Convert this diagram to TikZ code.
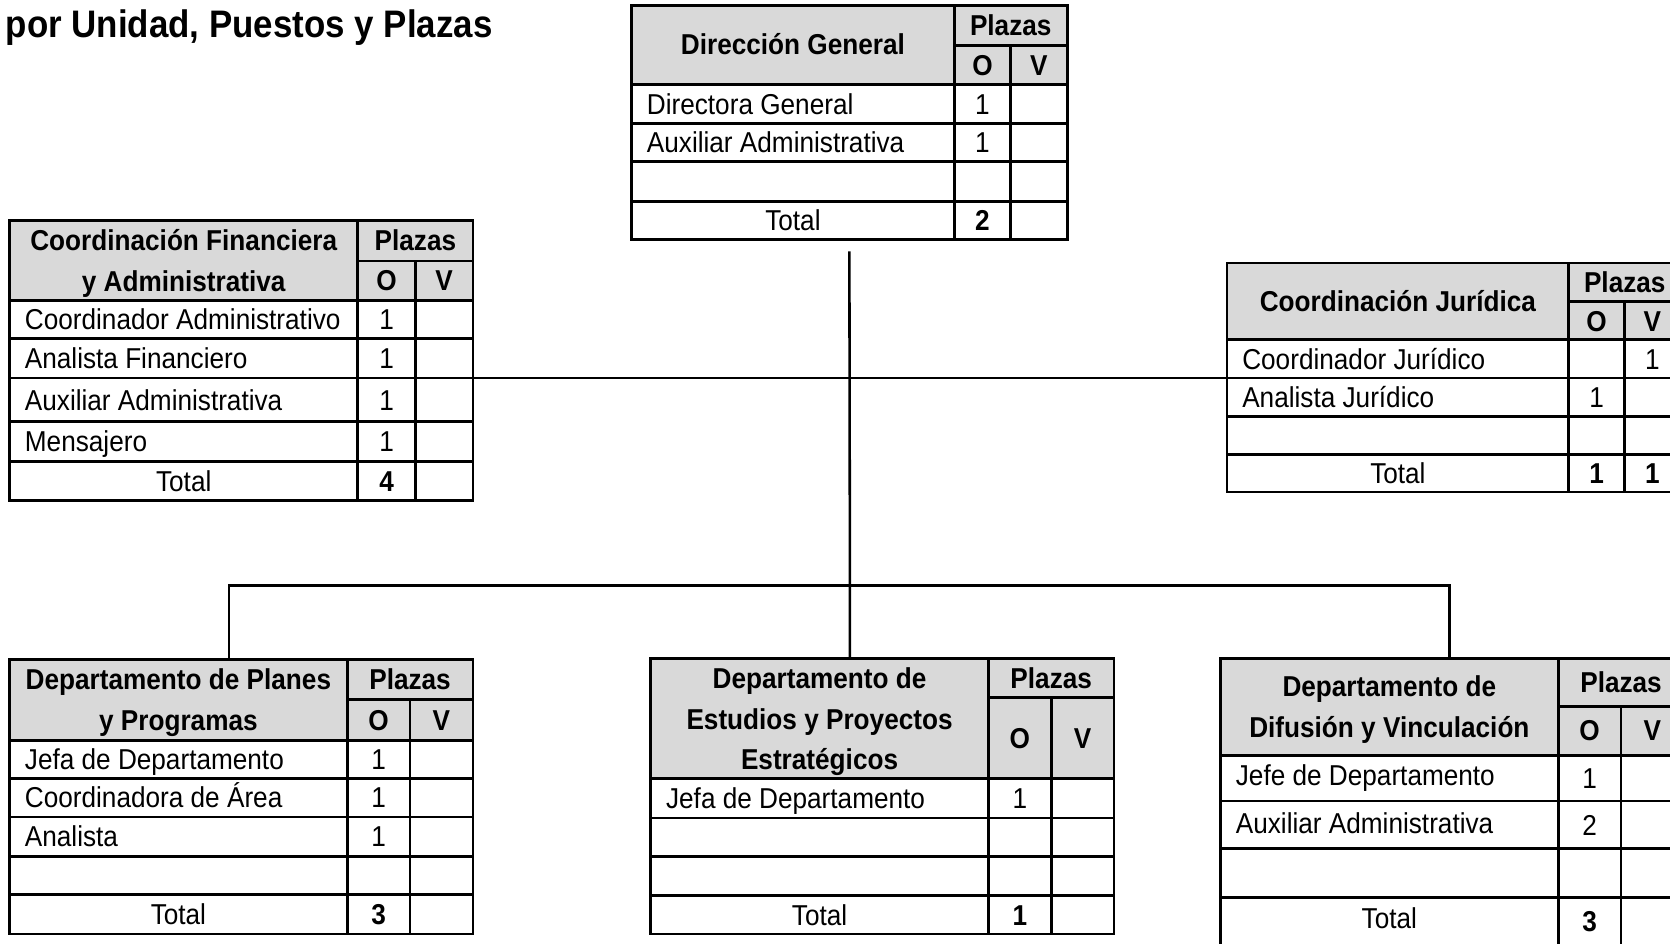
\documentclass[tikz,border=0pt]{standalone}
\usepackage{fontspec}
\setmainfont{Liberation Sans}[FakeStretch=0.91]
\usetikzlibrary{fit}
\definecolor{hdrgray}{HTML}{D9D9D9}
\tikzset{
  grid/.style={line width=1.3pt, black},
  conn/.style={line width=1.2pt, black},
  hdr/.style={fill=hdrgray},
  box/.style={inner sep=0pt, outer sep=0pt, draw=none},
  cell/.style={font=\fontsize{13.5}{16}\selectfont, inner sep=0pt, anchor=base west, yshift=-4.8pt},
  cellc/.style={cell, anchor=base},
  bcell/.style={font=\fontsize{13.5}{16}\selectfont\bfseries, inner sep=0pt, anchor=base, yshift=-4.8pt},
  titletext/.style={font=\fontsize{18}{22}\selectfont\bfseries, inner sep=0pt, anchor=base west},
}
\begin{document}
\begin{tikzpicture}[x=0.5pt, y=-0.5pt]
\useasboundingbox (0,0) rectangle (1568,886);
\clip (0,0) rectangle (1568,886);

\node[titletext] (title) at (5,35) {por Unidad, Puestos y Plazas};

% ---------- Direccion General ----------
\node[box, fit={(593,5)(1002,225)}] (dg) {};
\fill[hdr] (593,5) rectangle (1002,79);
\draw[grid] (593,5) rectangle (1002,225);
\draw[grid] (896,5) -- (896,225) (949,43) -- (949,225) (896,43) -- (1002,43);
\draw[grid] (593,79) -- (1002,79) (593,116) -- (1002,116) (593,152) -- (1002,152) (593,189) -- (1002,189);
\node[bcell] (dg-h) at (744.5,42) {Dirección General};
\node[bcell] (dg-p) at (949,24) {Plazas};
\node[bcell] (dg-o) at (922.5,61) {O};
\node[bcell] (dg-v) at (975.5,61) {V};
\node[cell] (dg-r1) at (607,97.5) {Directora General};
\node[cellc] (dg-r1o) at (922.5,97.5) {1};
\node[cell] (dg-r2) at (607,134) {Auxiliar Administrativa};
\node[cellc] (dg-r2o) at (922.5,134) {1};
\node[cellc] (dg-t) at (744.5,207) {Total};
\node[bcell] (dg-to) at (922.5,207) {2};

% ---------- Coordinacion Financiera ----------
\node[box, fit={(9,207)(444,470)}] (cf) {};
\fill[hdr] (9,207) rectangle (444,282);
\draw[grid] (9,207) rectangle (444,470);
\draw[grid] (336,207) -- (336,470) (390,245) -- (390,470) (336,245) -- (444,245);
\draw[grid] (9,282) -- (444,282) (9,318) -- (444,318) (9,355) -- (444,355) (9,396) -- (444,396) (9,433) -- (444,433);
\node[bcell] (cf-h1) at (172.5,226) {Coordinación Financiera};
\node[bcell] (cf-h2) at (172.5,264) {y Administrativa};
\node[bcell] (cf-p) at (390,226) {Plazas};
\node[bcell] (cf-o) at (363,263.5) {O};
\node[bcell] (cf-v) at (417,263.5) {V};
\node[cell] (cf-r1) at (23,300) {Coordinador Administrativo};
\node[cellc] (cf-r1o) at (363,300) {1};
\node[cell] (cf-r2) at (23,336.5) {Analista Financiero};
\node[cellc] (cf-r2o) at (363,336.5) {1};
\node[cell] (cf-r3) at (23,375.5) {Auxiliar Administrativa};
\node[cellc] (cf-r3o) at (363,375.5) {1};
\node[cell] (cf-r4) at (23,414.5) {Mensajero};
\node[cellc] (cf-r4o) at (363,414.5) {1};
\node[cellc] (cf-t) at (172.5,451.5) {Total};
\node[bcell] (cf-to) at (363,451.5) {4};

% ---------- Coordinacion Juridica ----------
\node[box, fit={(1152,247)(1578,462)}] (cj) {};
\fill[hdr] (1152,247) rectangle (1578,319);
\draw[grid] (1152,247) rectangle (1578,462);
\draw[grid] (1473,247) -- (1473,462) (1525,283) -- (1525,462) (1473,283) -- (1578,283);
\draw[grid] (1152,319) -- (1578,319) (1152,355) -- (1578,355) (1152,391) -- (1578,391) (1152,427) -- (1578,427);
\node[bcell] (cj-h) at (1312.5,283) {Coordinación Jurídica};
\node[bcell] (cj-p) at (1525.5,265) {Plazas};
\node[bcell] (cj-o) at (1499,301.5) {O};
\node[bcell] (cj-v) at (1551.5,301.5) {V};
\node[cell] (cj-r1) at (1166,337) {Coordinador Jurídico};
\node[cellc] (cj-r1v) at (1551.5,337) {1};
\node[cell] (cj-r2) at (1166,373) {Analista Jurídico};
\node[cellc] (cj-r2o) at (1499,373) {1};
\node[cellc] (cj-t) at (1312.5,444.5) {Total};
\node[bcell] (cj-to) at (1499,444.5) {1};
\node[bcell] (cj-tv) at (1551.5,444.5) {1};

% ---------- Departamento de Planes ----------
\node[box, fit={(9,619)(444,877)}] (dp) {};
\fill[hdr] (9,619) rectangle (444,695);
\draw[grid] (9,619) rectangle (444,877);
\draw[grid] (326,619) -- (326,877) (385,657) -- (385,877) (326,657) -- (444,657);
\draw[grid] (9,695) -- (444,695) (9,731) -- (444,731) (9,767) -- (444,767) (9,804) -- (444,804) (9,840) -- (444,840);
\node[bcell] (dp-h1) at (167.5,638) {Departamento de Planes};
\node[bcell] (dp-h2) at (167.5,676) {y Programas};
\node[bcell] (dp-p) at (385,638) {Plazas};
\node[bcell] (dp-o) at (355.5,676) {O};
\node[bcell] (dp-v) at (414.5,676) {V};
\node[cell] (dp-r1) at (23,713) {Jefa de Departamento};
\node[cellc] (dp-r1o) at (355.5,713) {1};
\node[cell] (dp-r2) at (23,749) {Coordinadora de Área};
\node[cellc] (dp-r2o) at (355.5,749) {1};
\node[cell] (dp-r3) at (23,785.5) {Analista};
\node[cellc] (dp-r3o) at (355.5,785.5) {1};
\node[cellc] (dp-t) at (167.5,858.5) {Total};
\node[bcell] (dp-to) at (355.5,858.5) {3};

% ---------- Departamento de Estudios ----------
\node[box, fit={(611,618)(1046,877)}] (de) {};
\fill[hdr] (611,618) rectangle (1046,731);
\draw[grid] (611,618) rectangle (1046,877);
\draw[grid] (928,618) -- (928,877) (987,655) -- (987,877) (928,655) -- (1046,655);
\draw[grid] (611,731) -- (1046,731) (611,768) -- (1046,768) (611,804) -- (1046,804) (611,841) -- (1046,841);
\node[bcell] (de-h1) at (769.5,637) {Departamento de};
\node[bcell] (de-h2) at (769.5,675) {Estudios y Proyectos};
\node[bcell] (de-h3) at (769.5,713) {Estratégicos};
\node[bcell] (de-p) at (987,636.5) {Plazas};
\node[bcell] (de-o) at (957.5,693) {O};
\node[bcell] (de-v) at (1016.5,693) {V};
\node[cell] (de-r1) at (625,749.5) {Jefa de Departamento};
\node[cellc] (de-r1o) at (957.5,749.5) {1};
\node[cellc] (de-t) at (769.5,859) {Total};
\node[bcell] (de-to) at (957.5,859) {1};

% ---------- Departamento de Difusion ----------
\node[box, fit={(1146,618)(1581,890)}] (dd) {};
\fill[hdr] (1146,618) rectangle (1581,709);
\draw[grid] (1146,618) rectangle (1581,890);
\draw[grid] (1463,618) -- (1463,890) (1522,663) -- (1522,890) (1463,663) -- (1581,663);
\draw[grid] (1146,709) -- (1581,709) (1146,752) -- (1581,752) (1146,797) -- (1581,797) (1146,843) -- (1581,843);
\node[bcell] (dd-h1) at (1304.5,644) {Departamento de};
\node[bcell] (dd-h2) at (1304.5,683) {Difusión y Vinculación};
\node[bcell] (dd-p) at (1522,640.5) {Plazas};
\node[bcell] (dd-o) at (1492.5,686) {O};
\node[bcell] (dd-v) at (1551.5,686) {V};
\node[cell] (dd-r1) at (1160,728) {Jefe de Departamento};
\node[cellc] (dd-r1o) at (1492.5,731) {1};
\node[cell] (dd-r2) at (1160,773) {Auxiliar Administrativa};
\node[cellc] (dd-r2o) at (1492.5,775) {2};
\node[cellc] (dd-t) at (1304.5,862) {Total};
\node[bcell] (dd-to) at (1492.5,865) {3};

% ---------- Connectors ----------
\coordinate (hubtop) at (797.5,236);
\coordinate (hubA) at (798,355);
\coordinate (hubB) at (798,550);
\coordinate (lb) at (215,550);
\coordinate (rb) at (1361,550);
\draw[conn] (hubtop) -- (hubB) -- (de.north -| hubB);
\draw[conn] (cf.east |- hubA) -- (cj.west |- hubA);
\draw[conn] (dp.north -| lb) -- (lb) -- (rb) -- (dd.north -| rb);
\end{tikzpicture}
\end{document}
